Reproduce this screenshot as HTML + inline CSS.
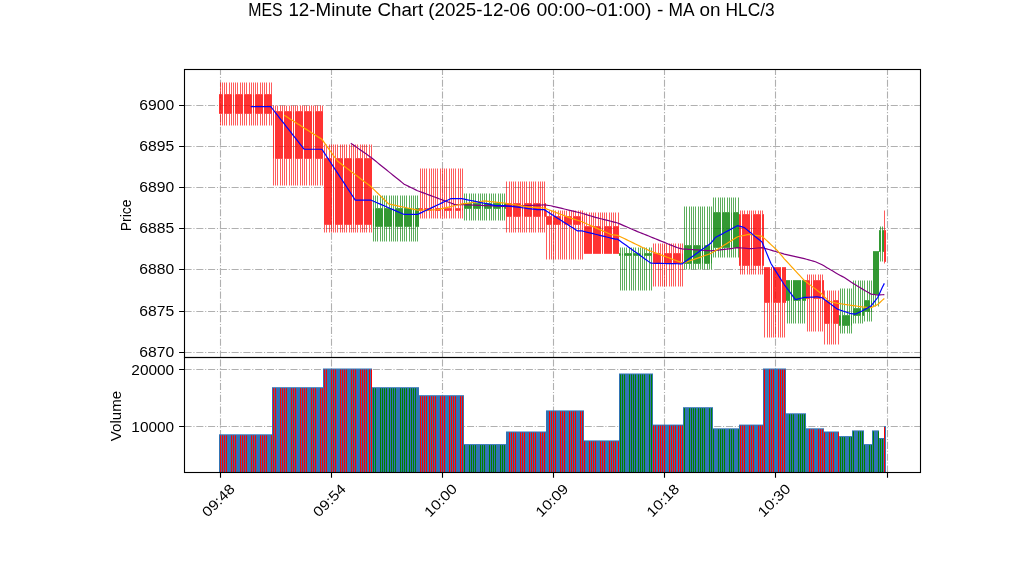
<!DOCTYPE html><html><head><meta charset="utf-8"><style>html,body{margin:0;padding:0;background:#fff;}svg{display:block;will-change:transform;}text{font-family:"Liberation Sans",sans-serif;fill:#000;}.tx{will-change:transform;}</style></head><body>
<svg width="1022" height="575" viewBox="0 0 1022 575">
<rect width="1022" height="575" fill="#fff"/>
<text x="248.30" y="15.85" font-size="17.6" textLength="34.40" lengthAdjust="spacingAndGlyphs">MES</text>
<text x="288.40" y="15.85" font-size="17.6" textLength="83.50" lengthAdjust="spacingAndGlyphs">12-Minute</text>
<text x="377.40" y="15.85" font-size="17.6" textLength="45.90" lengthAdjust="spacingAndGlyphs">Chart</text>
<text x="428.20" y="15.85" font-size="17.6" textLength="102.30" lengthAdjust="spacingAndGlyphs">(2025-12-06</text>
<text x="536.50" y="15.85" font-size="17.6" textLength="115.00" lengthAdjust="spacingAndGlyphs">00:00~01:00)</text>
<text x="656.90" y="15.85" font-size="17.6" textLength="6.40" lengthAdjust="spacingAndGlyphs">-</text>
<text x="668.60" y="15.85" font-size="17.6" textLength="26.00" lengthAdjust="spacingAndGlyphs">MA</text>
<text x="699.40" y="15.85" font-size="17.6" textLength="21.00" lengthAdjust="spacingAndGlyphs">on</text>
<text x="725.60" y="15.85" font-size="17.6" textLength="49.00" lengthAdjust="spacingAndGlyphs">HLC/3</text>
<g stroke="#b0b0b0" stroke-width="1.11" stroke-dasharray="7.1 1.78 1.11 1.78" fill="none"><line x1="184.5" y1="352.50" x2="920.5" y2="352.50"/><line x1="184.5" y1="311.50" x2="920.5" y2="311.50"/><line x1="184.5" y1="269.50" x2="920.5" y2="269.50"/><line x1="184.5" y1="228.50" x2="920.5" y2="228.50"/><line x1="184.5" y1="187.50" x2="920.5" y2="187.50"/><line x1="184.5" y1="146.50" x2="920.5" y2="146.50"/><line x1="184.5" y1="105.50" x2="920.5" y2="105.50"/><line x1="220.50" y1="357.5" x2="220.50" y2="69.5"/><line x1="331.50" y1="357.5" x2="331.50" y2="69.5"/><line x1="442.50" y1="357.5" x2="442.50" y2="69.5"/><line x1="553.50" y1="357.5" x2="553.50" y2="69.5"/><line x1="664.50" y1="357.5" x2="664.50" y2="69.5"/><line x1="775.50" y1="357.5" x2="775.50" y2="69.5"/><line x1="887.50" y1="357.5" x2="887.50" y2="69.5"/></g>
<g stroke="#b0b0b0" stroke-width="1.11" stroke-dasharray="7.1 1.78 1.11 1.78" fill="none"><line x1="184.5" y1="426.50" x2="920.5" y2="426.50"/><line x1="184.5" y1="369.50" x2="920.5" y2="369.50"/><line x1="220.50" y1="472.5" x2="220.50" y2="357.5"/><line x1="331.50" y1="472.5" x2="331.50" y2="357.5"/><line x1="442.50" y1="472.5" x2="442.50" y2="357.5"/><line x1="553.50" y1="472.5" x2="553.50" y2="357.5"/><line x1="664.50" y1="472.5" x2="664.50" y2="357.5"/><line x1="775.50" y1="472.5" x2="775.50" y2="357.5"/><line x1="887.50" y1="472.5" x2="887.50" y2="357.5"/></g>
<g><path d="M220.5 82.50V94.15M220.5 113.85V125.50M222.5 82.50V94.15M222.5 113.85V125.50M224.5 82.50V94.15M224.5 113.85V125.50M226.5 82.50V94.15M226.5 113.85V125.50M229.5 82.50V94.15M229.5 113.85V125.50M231.5 82.50V94.15M231.5 113.85V125.50M233.5 82.50V94.15M233.5 113.85V125.50M235.5 82.50V94.15M235.5 113.85V125.50M237.5 82.50V94.15M237.5 113.85V125.50M240.5 82.50V94.15M240.5 113.85V125.50M242.5 82.50V94.15M242.5 113.85V125.50M244.5 82.50V94.15M244.5 113.85V125.50M246.5 82.50V94.15M246.5 113.85V125.50M249.5 82.50V94.15M249.5 113.85V125.50M251.5 82.50V94.15M251.5 113.85V125.50M253.5 82.50V94.15M253.5 113.85V125.50M255.5 82.50V94.15M255.5 113.85V125.50M257.5 82.50V94.15M257.5 113.85V125.50M260.5 82.50V94.15M260.5 113.85V125.50M262.5 82.50V94.15M262.5 113.85V125.50M264.5 82.50V94.15M264.5 113.85V125.50M266.5 82.50V94.15M266.5 113.85V125.50M269.5 82.50V94.15M269.5 113.85V125.50M271.5 82.50V94.15M271.5 113.85V125.50" stroke="#ff0000" stroke-opacity="0.64" stroke-width="1" fill="none"/><path d="M273.5 105.50V111.15M273.5 158.85V185.50M275.5 105.50V111.15M275.5 158.85V185.50M277.5 105.50V111.15M277.5 158.85V185.50M280.5 105.50V111.15M280.5 158.85V185.50M282.5 105.50V111.15M282.5 158.85V185.50M284.5 105.50V111.15M284.5 158.85V185.50M286.5 105.50V111.15M286.5 158.85V185.50M289.5 105.50V111.15M289.5 158.85V185.50M291.5 105.50V111.15M291.5 158.85V185.50M293.5 105.50V111.15M293.5 158.85V185.50M295.5 105.50V111.15M295.5 158.85V185.50M297.5 105.50V111.15M297.5 158.85V185.50M300.5 105.50V111.15M300.5 158.85V185.50M302.5 105.50V111.15M302.5 158.85V185.50M304.5 105.50V111.15M304.5 158.85V185.50M306.5 105.50V111.15M306.5 158.85V185.50M309.5 105.50V111.15M309.5 158.85V185.50M311.5 105.50V111.15M311.5 158.85V185.50M313.5 105.50V111.15M313.5 158.85V185.50M315.5 105.50V111.15M315.5 158.85V185.50M317.5 105.50V111.15M317.5 158.85V185.50M320.5 105.50V111.15M320.5 158.85V185.50M322.5 105.50V111.15M322.5 158.85V185.50" stroke="#ff0000" stroke-opacity="0.64" stroke-width="1" fill="none"/><path d="M324.5 144.50V158.15M324.5 224.85V232.50M326.5 144.50V158.15M326.5 224.85V232.50M329.5 144.50V158.15M329.5 224.85V232.50M331.5 144.50V158.15M331.5 224.85V232.50M333.5 144.50V158.15M333.5 224.85V232.50M335.5 144.50V158.15M335.5 224.85V232.50M337.5 144.50V158.15M337.5 224.85V232.50M340.5 144.50V158.15M340.5 224.85V232.50M342.5 144.50V158.15M342.5 224.85V232.50M344.5 144.50V158.15M344.5 224.85V232.50M346.5 144.50V158.15M346.5 224.85V232.50M349.5 144.50V158.15M349.5 224.85V232.50M351.5 144.50V158.15M351.5 224.85V232.50M353.5 144.50V158.15M353.5 224.85V232.50M355.5 144.50V158.15M355.5 224.85V232.50M357.5 144.50V158.15M357.5 224.85V232.50M360.5 144.50V158.15M360.5 224.85V232.50M362.5 144.50V158.15M362.5 224.85V232.50M364.5 144.50V158.15M364.5 224.85V232.50M366.5 144.50V158.15M366.5 224.85V232.50M369.5 144.50V158.15M369.5 224.85V232.50M371.5 144.50V158.15M371.5 224.85V232.50" stroke="#ff0000" stroke-opacity="0.64" stroke-width="1" fill="none"/><path d="M373.5 195.50V208.15M373.5 226.85V241.50M375.5 195.50V208.15M375.5 226.85V241.50M377.5 195.50V208.15M377.5 226.85V241.50M380.5 195.50V208.15M380.5 226.85V241.50M382.5 195.50V208.15M382.5 226.85V241.50M384.5 195.50V208.15M384.5 226.85V241.50M386.5 195.50V208.15M386.5 226.85V241.50M389.5 195.50V208.15M389.5 226.85V241.50M391.5 195.50V208.15M391.5 226.85V241.50M393.5 195.50V208.15M393.5 226.85V241.50M395.5 195.50V208.15M395.5 226.85V241.50M397.5 195.50V208.15M397.5 226.85V241.50M400.5 195.50V208.15M400.5 226.85V241.50M402.5 195.50V208.15M402.5 226.85V241.50M404.5 195.50V208.15M404.5 226.85V241.50M406.5 195.50V208.15M406.5 226.85V241.50M409.5 195.50V208.15M409.5 226.85V241.50M411.5 195.50V208.15M411.5 226.85V241.50M413.5 195.50V208.15M413.5 226.85V241.50M415.5 195.50V208.15M415.5 226.85V241.50M417.5 195.50V208.15M417.5 226.85V241.50" stroke="#008000" stroke-opacity="0.64" stroke-width="1" fill="none"/><path d="M420.5 168.50V208.15M420.5 210.85V218.50M422.5 168.50V208.15M422.5 210.85V218.50M424.5 168.50V208.15M424.5 210.85V218.50M426.5 168.50V208.15M426.5 210.85V218.50M429.5 168.50V208.15M429.5 210.85V218.50M431.5 168.50V208.15M431.5 210.85V218.50M433.5 168.50V208.15M433.5 210.85V218.50M435.5 168.50V208.15M435.5 210.85V218.50M437.5 168.50V208.15M437.5 210.85V218.50M440.5 168.50V208.15M440.5 210.85V218.50M442.5 168.50V208.15M442.5 210.85V218.50M444.5 168.50V208.15M444.5 210.85V218.50M446.5 168.50V208.15M446.5 210.85V218.50M449.5 168.50V208.15M449.5 210.85V218.50M451.5 168.50V208.15M451.5 210.85V218.50M453.5 168.50V208.15M453.5 210.85V218.50M455.5 168.50V208.15M455.5 210.85V218.50M458.5 168.50V208.15M458.5 210.85V218.50M460.5 168.50V208.15M460.5 210.85V218.50M462.5 168.50V208.15M462.5 210.85V218.50" stroke="#ff0000" stroke-opacity="0.64" stroke-width="1" fill="none"/><path d="M464.5 193.50V203.15M464.5 208.85V220.50M466.5 193.50V203.15M466.5 208.85V220.50M469.5 193.50V203.15M469.5 208.85V220.50M471.5 193.50V203.15M471.5 208.85V220.50M473.5 193.50V203.15M473.5 208.85V220.50M475.5 193.50V203.15M475.5 208.85V220.50M478.5 193.50V203.15M478.5 208.85V220.50M480.5 193.50V203.15M480.5 208.85V220.50M482.5 193.50V203.15M482.5 208.85V220.50M484.5 193.50V203.15M484.5 208.85V220.50M486.5 193.50V203.15M486.5 208.85V220.50M489.5 193.50V203.15M489.5 208.85V220.50M491.5 193.50V203.15M491.5 208.85V220.50M493.5 193.50V203.15M493.5 208.85V220.50M495.5 193.50V203.15M495.5 208.85V220.50M498.5 193.50V203.15M498.5 208.85V220.50M500.5 193.50V203.15M500.5 208.85V220.50M502.5 193.50V203.15M502.5 208.85V220.50M504.5 193.50V203.15M504.5 208.85V220.50" stroke="#008000" stroke-opacity="0.64" stroke-width="1" fill="none"/><path d="M506.5 181.50V203.15M506.5 216.85V232.50M509.5 181.50V203.15M509.5 216.85V232.50M511.5 181.50V203.15M511.5 216.85V232.50M513.5 181.50V203.15M513.5 216.85V232.50M515.5 181.50V203.15M515.5 216.85V232.50M518.5 181.50V203.15M518.5 216.85V232.50M520.5 181.50V203.15M520.5 216.85V232.50M522.5 181.50V203.15M522.5 216.85V232.50M524.5 181.50V203.15M524.5 216.85V232.50M526.5 181.50V203.15M526.5 216.85V232.50M529.5 181.50V203.15M529.5 216.85V232.50M531.5 181.50V203.15M531.5 216.85V232.50M533.5 181.50V203.15M533.5 216.85V232.50M535.5 181.50V203.15M535.5 216.85V232.50M538.5 181.50V203.15M538.5 216.85V232.50M540.5 181.50V203.15M540.5 216.85V232.50M542.5 181.50V203.15M542.5 216.85V232.50M544.5 181.50V203.15M544.5 216.85V232.50" stroke="#ff0000" stroke-opacity="0.64" stroke-width="1" fill="none"/><path d="M546.5 210.50V216.15M546.5 224.85V259.50M549.5 210.50V216.15M549.5 224.85V259.50M551.5 210.50V216.15M551.5 224.85V259.50M553.5 210.50V216.15M553.5 224.85V259.50M555.5 210.50V216.15M555.5 224.85V259.50M558.5 210.50V216.15M558.5 224.85V259.50M560.5 210.50V216.15M560.5 224.85V259.50M562.5 210.50V216.15M562.5 224.85V259.50M564.5 210.50V216.15M564.5 224.85V259.50M566.5 210.50V216.15M566.5 224.85V259.50M569.5 210.50V216.15M569.5 224.85V259.50M571.5 210.50V216.15M571.5 224.85V259.50M573.5 210.50V216.15M573.5 224.85V259.50M575.5 210.50V216.15M575.5 224.85V259.50M578.5 210.50V216.15M578.5 224.85V259.50M580.5 210.50V216.15M580.5 224.85V259.50M582.5 210.50V216.15M582.5 224.85V259.50" stroke="#ff0000" stroke-opacity="0.64" stroke-width="1" fill="none"/><path d="M584.5 212.50V226.15M586.5 212.50V226.15M589.5 212.50V226.15M591.5 212.50V226.15M593.5 212.50V226.15M595.5 212.50V226.15M598.5 212.50V226.15M600.5 212.50V226.15M602.5 212.50V226.15M604.5 212.50V226.15M606.5 212.50V226.15M609.5 212.50V226.15M611.5 212.50V226.15M613.5 212.50V226.15M615.5 212.50V226.15M618.5 212.50V226.15" stroke="#ff0000" stroke-opacity="0.64" stroke-width="1" fill="none"/><path d="M620.5 247.50V253.15M620.5 255.85V290.50M622.5 247.50V253.15M622.5 255.85V290.50M624.5 247.50V253.15M624.5 255.85V290.50M626.5 247.50V253.15M626.5 255.85V290.50M629.5 247.50V253.15M629.5 255.85V290.50M631.5 247.50V253.15M631.5 255.85V290.50M633.5 247.50V253.15M633.5 255.85V290.50M635.5 247.50V253.15M635.5 255.85V290.50M638.5 247.50V253.15M638.5 255.85V290.50M640.5 247.50V253.15M640.5 255.85V290.50M642.5 247.50V253.15M642.5 255.85V290.50M644.5 247.50V253.15M644.5 255.85V290.50M646.5 247.50V253.15M646.5 255.85V290.50M649.5 247.50V253.15M649.5 255.85V290.50M651.5 247.50V253.15M651.5 255.85V290.50" stroke="#008000" stroke-opacity="0.64" stroke-width="1" fill="none"/><path d="M653.5 243.50V253.15M653.5 263.85V286.50M655.5 243.50V253.15M655.5 263.85V286.50M658.5 243.50V253.15M658.5 263.85V286.50M660.5 243.50V253.15M660.5 263.85V286.50M662.5 243.50V253.15M662.5 263.85V286.50M664.5 243.50V253.15M664.5 263.85V286.50M666.5 243.50V253.15M666.5 263.85V286.50M669.5 243.50V253.15M669.5 263.85V286.50M671.5 243.50V253.15M671.5 263.85V286.50M673.5 243.50V253.15M673.5 263.85V286.50M675.5 243.50V253.15M675.5 263.85V286.50M678.5 243.50V253.15M678.5 263.85V286.50M680.5 243.50V253.15M680.5 263.85V286.50M682.5 243.50V253.15M682.5 263.85V286.50" stroke="#ff0000" stroke-opacity="0.64" stroke-width="1" fill="none"/><path d="M684.5 206.50V245.15M684.5 263.85V269.50M686.5 206.50V245.15M686.5 263.85V269.50M689.5 206.50V245.15M689.5 263.85V269.50M691.5 206.50V245.15M691.5 263.85V269.50M693.5 206.50V245.15M693.5 263.85V269.50M695.5 206.50V245.15M695.5 263.85V269.50M698.5 206.50V245.15M698.5 263.85V269.50M700.5 206.50V245.15M700.5 263.85V269.50M702.5 206.50V245.15M702.5 263.85V269.50M704.5 206.50V245.15M704.5 263.85V269.50M707.5 206.50V245.15M707.5 263.85V269.50M709.5 206.50V245.15M709.5 263.85V269.50M711.5 206.50V245.15M711.5 263.85V269.50" stroke="#008000" stroke-opacity="0.64" stroke-width="1" fill="none"/><path d="M713.5 197.50V212.15M713.5 247.85V257.50M715.5 197.50V212.15M715.5 247.85V257.50M718.5 197.50V212.15M718.5 247.85V257.50M720.5 197.50V212.15M720.5 247.85V257.50M722.5 197.50V212.15M722.5 247.85V257.50M724.5 197.50V212.15M724.5 247.85V257.50M727.5 197.50V212.15M727.5 247.85V257.50M729.5 197.50V212.15M729.5 247.85V257.50M731.5 197.50V212.15M731.5 247.85V257.50M733.5 197.50V212.15M733.5 247.85V257.50M735.5 197.50V212.15M735.5 247.85V257.50M738.5 197.50V212.15M738.5 247.85V257.50" stroke="#008000" stroke-opacity="0.64" stroke-width="1" fill="none"/><path d="M740.5 210.50V214.15M740.5 265.85V274.50M742.5 210.50V214.15M742.5 265.85V274.50M744.5 210.50V214.15M744.5 265.85V274.50M747.5 210.50V214.15M747.5 265.85V274.50M749.5 210.50V214.15M749.5 265.85V274.50M751.5 210.50V214.15M751.5 265.85V274.50M753.5 210.50V214.15M753.5 265.85V274.50M755.5 210.50V214.15M755.5 265.85V274.50M758.5 210.50V214.15M758.5 265.85V274.50M760.5 210.50V214.15M760.5 265.85V274.50M762.5 210.50V214.15M762.5 265.85V274.50" stroke="#ff0000" stroke-opacity="0.64" stroke-width="1" fill="none"/><path d="M764.5 302.85V337.50M767.5 302.85V337.50M769.5 302.85V337.50M771.5 302.85V337.50M773.5 302.85V337.50M775.5 302.85V337.50M778.5 302.85V337.50M780.5 302.85V337.50M782.5 302.85V337.50M784.5 302.85V337.50" stroke="#ff0000" stroke-opacity="0.64" stroke-width="1" fill="none"/><path d="M787.5 300.85V323.50M789.5 300.85V323.50M791.5 300.85V323.50M793.5 300.85V323.50M795.5 300.85V323.50M798.5 300.85V323.50M800.5 300.85V323.50M802.5 300.85V323.50M804.5 300.85V323.50" stroke="#008000" stroke-opacity="0.64" stroke-width="1" fill="none"/><path d="M807.5 274.50V280.15M807.5 298.85V331.50M809.5 274.50V280.15M809.5 298.85V331.50M811.5 274.50V280.15M811.5 298.85V331.50M813.5 274.50V280.15M813.5 298.85V331.50M815.5 274.50V280.15M815.5 298.85V331.50M818.5 274.50V280.15M818.5 298.85V331.50M820.5 274.50V280.15M820.5 298.85V331.50M822.5 274.50V280.15M822.5 298.85V331.50" stroke="#ff0000" stroke-opacity="0.64" stroke-width="1" fill="none"/><path d="M824.5 290.50V300.15M824.5 323.85V344.50M827.5 290.50V300.15M827.5 323.85V344.50M829.5 290.50V300.15M829.5 323.85V344.50M831.5 290.50V300.15M831.5 323.85V344.50M833.5 290.50V300.15M833.5 323.85V344.50M835.5 290.50V300.15M835.5 323.85V344.50M838.5 290.50V300.15M838.5 323.85V344.50" stroke="#ff0000" stroke-opacity="0.64" stroke-width="1" fill="none"/><path d="M840.5 288.50V315.15M840.5 325.85V333.50M842.5 288.50V315.15M842.5 325.85V333.50M844.5 288.50V315.15M844.5 325.85V333.50M847.5 288.50V315.15M847.5 325.85V333.50M849.5 288.50V315.15M849.5 325.85V333.50M851.5 288.50V315.15M851.5 325.85V333.50" stroke="#008000" stroke-opacity="0.64" stroke-width="1" fill="none"/><path d="M853.5 280.50V308.15M853.5 315.85V323.50M855.5 280.50V308.15M855.5 315.85V323.50M858.5 280.50V308.15M858.5 315.85V323.50M860.5 280.50V308.15M860.5 315.85V323.50M862.5 280.50V308.15M862.5 315.85V323.50" stroke="#008000" stroke-opacity="0.64" stroke-width="1" fill="none"/><path d="M864.5 280.50V300.15M864.5 311.85V321.50M867.5 280.50V300.15M867.5 311.85V321.50M869.5 280.50V300.15M869.5 311.85V321.50M871.5 280.50V300.15M871.5 311.85V321.50" stroke="#008000" stroke-opacity="0.64" stroke-width="1" fill="none"/><path d="M873.5 294.85V306.50M875.5 294.85V306.50M878.5 294.85V306.50" stroke="#008000" stroke-opacity="0.64" stroke-width="1" fill="none"/><path d="M880.5 226.50V230.15M880.5 251.85V261.50M882.5 226.50V230.15M882.5 251.85V261.50" stroke="#008000" stroke-opacity="0.64" stroke-width="1" fill="none"/><path d="M884.5 210.50V230.15M884.5 261.85V263.50" stroke="#ff0000" stroke-opacity="0.64" stroke-width="1" fill="none"/></g>
<g><rect x="219" y="94.15" width="4" height="19.70" fill="#ff0000" fill-opacity="0.8"/><rect x="224" y="94.15" width="8" height="19.70" fill="#ff0000" fill-opacity="0.8"/><rect x="233" y="94.15" width="1" height="19.70" fill="#ff0000" fill-opacity="0.8"/><rect x="235" y="94.15" width="8" height="19.70" fill="#ff0000" fill-opacity="0.8"/><rect x="244" y="94.15" width="8" height="19.70" fill="#ff0000" fill-opacity="0.8"/><rect x="253" y="94.15" width="1" height="19.70" fill="#ff0000" fill-opacity="0.8"/><rect x="255" y="94.15" width="8" height="19.70" fill="#ff0000" fill-opacity="0.8"/><rect x="264" y="94.15" width="8" height="19.70" fill="#ff0000" fill-opacity="0.8"/><rect x="273" y="111.15" width="1" height="47.70" fill="#ff0000" fill-opacity="0.8"/><rect x="275" y="111.15" width="8" height="47.70" fill="#ff0000" fill-opacity="0.8"/><rect x="284" y="111.15" width="8" height="47.70" fill="#ff0000" fill-opacity="0.8"/><rect x="293" y="111.15" width="1" height="47.70" fill="#ff0000" fill-opacity="0.8"/><rect x="295" y="111.15" width="8" height="47.70" fill="#ff0000" fill-opacity="0.8"/><rect x="304" y="111.15" width="8" height="47.70" fill="#ff0000" fill-opacity="0.8"/><rect x="313" y="111.15" width="1" height="47.70" fill="#ff0000" fill-opacity="0.8"/><rect x="315" y="111.15" width="8" height="47.70" fill="#ff0000" fill-opacity="0.8"/><rect x="324" y="158.15" width="8" height="66.70" fill="#ff0000" fill-opacity="0.8"/><rect x="333" y="158.15" width="1" height="66.70" fill="#ff0000" fill-opacity="0.8"/><rect x="335" y="158.15" width="8" height="66.70" fill="#ff0000" fill-opacity="0.8"/><rect x="344" y="158.15" width="8" height="66.70" fill="#ff0000" fill-opacity="0.8"/><rect x="353" y="158.15" width="1" height="66.70" fill="#ff0000" fill-opacity="0.8"/><rect x="355" y="158.15" width="8" height="66.70" fill="#ff0000" fill-opacity="0.8"/><rect x="364" y="158.15" width="8" height="66.70" fill="#ff0000" fill-opacity="0.8"/><rect x="373" y="208.15" width="1" height="18.70" fill="#008000" fill-opacity="0.8"/><rect x="375" y="208.15" width="8" height="18.70" fill="#008000" fill-opacity="0.8"/><rect x="384" y="208.15" width="8" height="18.70" fill="#008000" fill-opacity="0.8"/><rect x="393" y="208.15" width="1" height="18.70" fill="#008000" fill-opacity="0.8"/><rect x="395" y="208.15" width="8" height="18.70" fill="#008000" fill-opacity="0.8"/><rect x="404" y="208.15" width="8" height="18.70" fill="#008000" fill-opacity="0.8"/><rect x="413" y="208.15" width="1" height="18.70" fill="#008000" fill-opacity="0.8"/><rect x="415" y="208.15" width="4" height="18.70" fill="#008000" fill-opacity="0.8"/><rect x="419" y="208.15" width="4" height="2.70" fill="#ff0000" fill-opacity="0.8"/><rect x="424" y="208.15" width="8" height="2.70" fill="#ff0000" fill-opacity="0.8"/><rect x="433" y="208.15" width="1" height="2.70" fill="#ff0000" fill-opacity="0.8"/><rect x="435" y="208.15" width="6" height="2.70" fill="#ff0000" fill-opacity="0.8"/><rect x="442" y="208.15" width="1" height="2.70" fill="#ff0000" fill-opacity="0.8"/><rect x="444" y="208.15" width="8" height="2.70" fill="#ff0000" fill-opacity="0.8"/><rect x="453" y="208.15" width="1" height="2.70" fill="#ff0000" fill-opacity="0.8"/><rect x="455" y="208.15" width="6" height="2.70" fill="#ff0000" fill-opacity="0.8"/><rect x="462" y="208.15" width="1" height="2.70" fill="#ff0000" fill-opacity="0.8"/><rect x="464" y="203.15" width="8" height="5.70" fill="#008000" fill-opacity="0.8"/><rect x="473" y="203.15" width="8" height="5.70" fill="#008000" fill-opacity="0.8"/><rect x="482" y="203.15" width="1" height="5.70" fill="#008000" fill-opacity="0.8"/><rect x="484" y="203.15" width="8" height="5.70" fill="#008000" fill-opacity="0.8"/><rect x="493" y="203.15" width="8" height="5.70" fill="#008000" fill-opacity="0.8"/><rect x="502" y="203.15" width="1" height="5.70" fill="#008000" fill-opacity="0.8"/><rect x="504" y="203.15" width="2" height="5.70" fill="#008000" fill-opacity="0.8"/><rect x="506" y="203.15" width="6" height="13.70" fill="#ff0000" fill-opacity="0.8"/><rect x="513" y="203.15" width="8" height="13.70" fill="#ff0000" fill-opacity="0.8"/><rect x="522" y="203.15" width="1" height="13.70" fill="#ff0000" fill-opacity="0.8"/><rect x="524" y="203.15" width="8" height="13.70" fill="#ff0000" fill-opacity="0.8"/><rect x="533" y="203.15" width="8" height="13.70" fill="#ff0000" fill-opacity="0.8"/><rect x="542" y="203.15" width="1" height="13.70" fill="#ff0000" fill-opacity="0.8"/><rect x="544" y="203.15" width="2" height="13.70" fill="#ff0000" fill-opacity="0.8"/><rect x="546" y="216.15" width="6" height="8.70" fill="#ff0000" fill-opacity="0.8"/><rect x="553" y="216.15" width="8" height="8.70" fill="#ff0000" fill-opacity="0.8"/><rect x="562" y="216.15" width="1" height="8.70" fill="#ff0000" fill-opacity="0.8"/><rect x="564" y="216.15" width="8" height="8.70" fill="#ff0000" fill-opacity="0.8"/><rect x="573" y="216.15" width="8" height="8.70" fill="#ff0000" fill-opacity="0.8"/><rect x="582" y="216.15" width="1" height="8.70" fill="#ff0000" fill-opacity="0.8"/><rect x="584" y="226.15" width="8" height="27.70" fill="#ff0000" fill-opacity="0.8"/><rect x="593" y="226.15" width="8" height="27.70" fill="#ff0000" fill-opacity="0.8"/><rect x="602" y="226.15" width="1" height="27.70" fill="#ff0000" fill-opacity="0.8"/><rect x="604" y="226.15" width="8" height="27.70" fill="#ff0000" fill-opacity="0.8"/><rect x="613" y="226.15" width="6" height="27.70" fill="#ff0000" fill-opacity="0.8"/><rect x="619" y="253.15" width="2" height="2.70" fill="#008000" fill-opacity="0.8"/><rect x="622" y="253.15" width="1" height="2.70" fill="#008000" fill-opacity="0.8"/><rect x="624" y="253.15" width="8" height="2.70" fill="#008000" fill-opacity="0.8"/><rect x="633" y="253.15" width="8" height="2.70" fill="#008000" fill-opacity="0.8"/><rect x="642" y="253.15" width="1" height="2.70" fill="#008000" fill-opacity="0.8"/><rect x="644" y="253.15" width="8" height="2.70" fill="#008000" fill-opacity="0.8"/><rect x="653" y="253.15" width="8" height="10.70" fill="#ff0000" fill-opacity="0.8"/><rect x="662" y="253.15" width="1" height="10.70" fill="#ff0000" fill-opacity="0.8"/><rect x="664" y="253.15" width="8" height="10.70" fill="#ff0000" fill-opacity="0.8"/><rect x="673" y="253.15" width="8" height="10.70" fill="#ff0000" fill-opacity="0.8"/><rect x="682" y="253.15" width="1" height="10.70" fill="#ff0000" fill-opacity="0.8"/><rect x="684" y="245.15" width="8" height="18.70" fill="#008000" fill-opacity="0.8"/><rect x="693" y="245.15" width="8" height="18.70" fill="#008000" fill-opacity="0.8"/><rect x="702" y="245.15" width="1" height="18.70" fill="#008000" fill-opacity="0.8"/><rect x="704" y="245.15" width="6" height="18.70" fill="#008000" fill-opacity="0.8"/><rect x="711" y="245.15" width="1" height="18.70" fill="#008000" fill-opacity="0.8"/><rect x="713" y="212.15" width="8" height="35.70" fill="#008000" fill-opacity="0.8"/><rect x="722" y="212.15" width="8" height="35.70" fill="#008000" fill-opacity="0.8"/><rect x="731" y="212.15" width="1" height="35.70" fill="#008000" fill-opacity="0.8"/><rect x="733" y="212.15" width="6" height="35.70" fill="#008000" fill-opacity="0.8"/><rect x="739" y="214.15" width="2" height="51.70" fill="#ff0000" fill-opacity="0.8"/><rect x="742" y="214.15" width="8" height="51.70" fill="#ff0000" fill-opacity="0.8"/><rect x="751" y="214.15" width="1" height="51.70" fill="#ff0000" fill-opacity="0.8"/><rect x="753" y="214.15" width="8" height="51.70" fill="#ff0000" fill-opacity="0.8"/><rect x="762" y="214.15" width="2" height="51.70" fill="#ff0000" fill-opacity="0.8"/><rect x="764" y="267.15" width="6" height="35.70" fill="#ff0000" fill-opacity="0.8"/><rect x="771" y="267.15" width="1" height="35.70" fill="#ff0000" fill-opacity="0.8"/><rect x="773" y="267.15" width="8" height="35.70" fill="#ff0000" fill-opacity="0.8"/><rect x="782" y="267.15" width="4" height="35.70" fill="#ff0000" fill-opacity="0.8"/><rect x="786" y="280.15" width="4" height="20.70" fill="#008000" fill-opacity="0.8"/><rect x="791" y="280.15" width="1" height="20.70" fill="#008000" fill-opacity="0.8"/><rect x="793" y="280.15" width="8" height="20.70" fill="#008000" fill-opacity="0.8"/><rect x="802" y="280.15" width="4" height="20.70" fill="#008000" fill-opacity="0.8"/><rect x="806" y="280.15" width="4" height="18.70" fill="#ff0000" fill-opacity="0.8"/><rect x="811" y="280.15" width="1" height="18.70" fill="#ff0000" fill-opacity="0.8"/><rect x="813" y="280.15" width="8" height="18.70" fill="#ff0000" fill-opacity="0.8"/><rect x="822" y="280.15" width="2" height="18.70" fill="#ff0000" fill-opacity="0.8"/><rect x="824" y="300.15" width="6" height="23.70" fill="#ff0000" fill-opacity="0.8"/><rect x="831" y="300.15" width="1" height="23.70" fill="#ff0000" fill-opacity="0.8"/><rect x="833" y="300.15" width="6" height="23.70" fill="#ff0000" fill-opacity="0.8"/><rect x="839" y="315.15" width="2" height="10.70" fill="#008000" fill-opacity="0.8"/><rect x="842" y="315.15" width="8" height="10.70" fill="#008000" fill-opacity="0.8"/><rect x="851" y="315.15" width="1" height="10.70" fill="#008000" fill-opacity="0.8"/><rect x="853" y="308.15" width="8" height="7.70" fill="#008000" fill-opacity="0.8"/><rect x="862" y="308.15" width="2" height="7.70" fill="#008000" fill-opacity="0.8"/><rect x="864" y="300.15" width="6" height="11.70" fill="#008000" fill-opacity="0.8"/><rect x="871" y="300.15" width="1" height="11.70" fill="#008000" fill-opacity="0.8"/><rect x="873" y="251.15" width="6" height="43.70" fill="#008000" fill-opacity="0.8"/><rect x="879" y="230.15" width="2" height="21.70" fill="#008000" fill-opacity="0.8"/><rect x="882" y="230.15" width="2" height="21.70" fill="#008000" fill-opacity="0.8"/><rect x="884" y="230.15" width="2" height="31.70" fill="#ff0000" fill-opacity="0.8"/></g>
<g><rect x="219" y="434.30" width="53" height="38.20" fill="#3274b4"/><path d="M220.5 435.30V472.5M222.5 435.30V472.5M224.5 435.30V472.5M226.5 435.30V472.5M231.5 435.30V472.5M233.5 435.30V472.5M235.5 435.30V472.5M240.5 435.30V472.5M242.5 435.30V472.5M244.5 435.30V472.5M246.5 435.30V472.5M251.5 435.30V472.5M253.5 435.30V472.5M255.5 435.30V472.5M260.5 435.30V472.5M262.5 435.30V472.5M264.5 435.30V472.5M266.5 435.30V472.5M271.5 435.30V472.5" stroke="#ff0000" stroke-width="1" fill="none"/><rect x="272" y="387.20" width="52" height="85.30" fill="#3274b4"/><path d="M273.5 388.20V472.5M275.5 388.20V472.5M280.5 388.20V472.5M282.5 388.20V472.5M284.5 388.20V472.5M286.5 388.20V472.5M291.5 388.20V472.5M293.5 388.20V472.5M295.5 388.20V472.5M300.5 388.20V472.5M302.5 388.20V472.5M304.5 388.20V472.5M306.5 388.20V472.5M311.5 388.20V472.5M313.5 388.20V472.5M315.5 388.20V472.5M320.5 388.20V472.5M322.5 388.20V472.5" stroke="#ff0000" stroke-width="1" fill="none"/><rect x="323" y="368.50" width="49" height="104.00" fill="#3274b4"/><path d="M324.5 369.50V472.5M326.5 369.50V472.5M331.5 369.50V472.5M333.5 369.50V472.5M335.5 369.50V472.5M340.5 369.50V472.5M342.5 369.50V472.5M344.5 369.50V472.5M346.5 369.50V472.5M351.5 369.50V472.5M353.5 369.50V472.5M355.5 369.50V472.5M360.5 369.50V472.5M362.5 369.50V472.5M364.5 369.50V472.5M366.5 369.50V472.5M369.5 369.50V472.5M371.5 369.50V472.5" stroke="#ff0000" stroke-width="1" fill="none"/><rect x="372" y="387.20" width="47" height="85.30" fill="#3274b4"/><path d="M373.5 388.20V472.5M375.5 388.20V472.5M380.5 388.20V472.5M382.5 388.20V472.5M384.5 388.20V472.5M386.5 388.20V472.5M389.5 388.20V472.5M391.5 388.20V472.5M393.5 388.20V472.5M395.5 388.20V472.5M400.5 388.20V472.5M402.5 388.20V472.5M404.5 388.20V472.5M406.5 388.20V472.5M409.5 388.20V472.5M411.5 388.20V472.5M413.5 388.20V472.5M415.5 388.20V472.5" stroke="#008000" stroke-width="1" fill="none"/><rect x="419" y="395.20" width="45" height="77.30" fill="#3274b4"/><path d="M420.5 396.20V472.5M422.5 396.20V472.5M424.5 396.20V472.5M426.5 396.20V472.5M429.5 396.20V472.5M431.5 396.20V472.5M433.5 396.20V472.5M435.5 396.20V472.5M440.5 396.20V472.5M442.5 396.20V472.5M444.5 396.20V472.5M449.5 396.20V472.5M451.5 396.20V472.5M453.5 396.20V472.5M455.5 396.20V472.5M460.5 396.20V472.5M462.5 396.20V472.5" stroke="#ff0000" stroke-width="1" fill="none"/><rect x="463" y="444.10" width="43" height="28.40" fill="#3274b4"/><path d="M464.5 445.10V472.5M469.5 445.10V472.5M471.5 445.10V472.5M473.5 445.10V472.5M475.5 445.10V472.5M480.5 445.10V472.5M482.5 445.10V472.5M484.5 445.10V472.5M489.5 445.10V472.5M491.5 445.10V472.5M493.5 445.10V472.5M495.5 445.10V472.5M500.5 445.10V472.5M502.5 445.10V472.5M504.5 445.10V472.5" stroke="#008000" stroke-width="1" fill="none"/><rect x="506" y="431.50" width="40" height="41.00" fill="#3274b4"/><path d="M509.5 432.50V472.5M511.5 432.50V472.5M513.5 432.50V472.5M515.5 432.50V472.5M520.5 432.50V472.5M522.5 432.50V472.5M524.5 432.50V472.5M529.5 432.50V472.5M531.5 432.50V472.5M533.5 432.50V472.5M535.5 432.50V472.5M540.5 432.50V472.5M542.5 432.50V472.5M544.5 432.50V472.5" stroke="#ff0000" stroke-width="1" fill="none"/><rect x="546" y="410.40" width="38" height="62.10" fill="#3274b4"/><path d="M549.5 411.40V472.5M551.5 411.40V472.5M553.5 411.40V472.5M555.5 411.40V472.5M560.5 411.40V472.5M562.5 411.40V472.5M564.5 411.40V472.5M569.5 411.40V472.5M571.5 411.40V472.5M573.5 411.40V472.5M575.5 411.40V472.5M580.5 411.40V472.5M582.5 411.40V472.5" stroke="#ff0000" stroke-width="1" fill="none"/><rect x="583" y="440.40" width="36" height="32.10" fill="#3274b4"/><path d="M584.5 441.40V472.5M589.5 441.40V472.5M591.5 441.40V472.5M593.5 441.40V472.5M595.5 441.40V472.5M600.5 441.40V472.5M602.5 441.40V472.5M604.5 441.40V472.5M609.5 441.40V472.5M611.5 441.40V472.5M613.5 441.40V472.5M615.5 441.40V472.5M618.5 441.40V472.5" stroke="#ff0000" stroke-width="1" fill="none"/><rect x="619" y="373.50" width="34" height="99.00" fill="#3274b4"/><path d="M620.5 374.50V472.5M622.5 374.50V472.5M624.5 374.50V472.5M629.5 374.50V472.5M631.5 374.50V472.5M633.5 374.50V472.5M635.5 374.50V472.5M638.5 374.50V472.5M640.5 374.50V472.5M642.5 374.50V472.5M644.5 374.50V472.5M649.5 374.50V472.5M651.5 374.50V472.5" stroke="#008000" stroke-width="1" fill="none"/><rect x="652" y="424.60" width="32" height="47.90" fill="#3274b4"/><path d="M653.5 425.60V472.5M655.5 425.60V472.5M658.5 425.60V472.5M660.5 425.60V472.5M662.5 425.60V472.5M664.5 425.60V472.5M669.5 425.60V472.5M671.5 425.60V472.5M673.5 425.60V472.5M675.5 425.60V472.5M678.5 425.60V472.5M680.5 425.60V472.5M682.5 425.60V472.5" stroke="#ff0000" stroke-width="1" fill="none"/><rect x="683" y="407.20" width="30" height="65.30" fill="#3274b4"/><path d="M684.5 408.20V472.5M689.5 408.20V472.5M691.5 408.20V472.5M693.5 408.20V472.5M695.5 408.20V472.5M698.5 408.20V472.5M700.5 408.20V472.5M702.5 408.20V472.5M704.5 408.20V472.5M709.5 408.20V472.5M711.5 408.20V472.5" stroke="#008000" stroke-width="1" fill="none"/><rect x="712" y="428.30" width="27" height="44.20" fill="#3274b4"/><path d="M713.5 429.30V472.5M718.5 429.30V472.5M720.5 429.30V472.5M722.5 429.30V472.5M724.5 429.30V472.5M729.5 429.30V472.5M731.5 429.30V472.5M733.5 429.30V472.5M738.5 429.30V472.5" stroke="#008000" stroke-width="1" fill="none"/><rect x="739" y="424.60" width="25" height="47.90" fill="#3274b4"/><path d="M740.5 425.60V472.5M742.5 425.60V472.5M744.5 425.60V472.5M749.5 425.60V472.5M751.5 425.60V472.5M753.5 425.60V472.5M758.5 425.60V472.5M760.5 425.60V472.5M762.5 425.60V472.5" stroke="#ff0000" stroke-width="1" fill="none"/><rect x="763" y="368.50" width="23" height="104.00" fill="#3274b4"/><path d="M764.5 369.50V472.5M769.5 369.50V472.5M771.5 369.50V472.5M773.5 369.50V472.5M778.5 369.50V472.5M780.5 369.50V472.5M782.5 369.50V472.5M784.5 369.50V472.5" stroke="#ff0000" stroke-width="1" fill="none"/><rect x="786" y="413.30" width="20" height="59.20" fill="#3274b4"/><path d="M789.5 414.30V472.5M791.5 414.30V472.5M793.5 414.30V472.5M798.5 414.30V472.5M800.5 414.30V472.5M802.5 414.30V472.5M804.5 414.30V472.5" stroke="#008000" stroke-width="1" fill="none"/><rect x="806" y="428.30" width="18" height="44.20" fill="#3274b4"/><path d="M809.5 429.30V472.5M811.5 429.30V472.5M813.5 429.30V472.5M818.5 429.30V472.5M820.5 429.30V472.5M822.5 429.30V472.5" stroke="#ff0000" stroke-width="1" fill="none"/><rect x="823" y="431.50" width="16" height="41.00" fill="#3274b4"/><path d="M824.5 432.50V472.5M829.5 432.50V472.5M831.5 432.50V472.5M833.5 432.50V472.5M838.5 432.50V472.5" stroke="#ff0000" stroke-width="1" fill="none"/><rect x="839" y="436.10" width="14" height="36.40" fill="#3274b4"/><path d="M840.5 437.10V472.5M842.5 437.10V472.5M844.5 437.10V472.5M849.5 437.10V472.5M851.5 437.10V472.5" stroke="#008000" stroke-width="1" fill="none"/><rect x="852" y="430.40" width="12" height="42.10" fill="#3274b4"/><path d="M853.5 431.40V472.5M858.5 431.40V472.5M860.5 431.40V472.5M862.5 431.40V472.5" stroke="#008000" stroke-width="1" fill="none"/><rect x="863" y="444.10" width="10" height="28.40" fill="#3274b4"/><path d="M864.5 445.10V472.5M869.5 445.10V472.5M871.5 445.10V472.5" stroke="#008000" stroke-width="1" fill="none"/><rect x="872" y="430.40" width="7" height="42.10" fill="#3274b4"/><path d="M873.5 431.40V472.5M878.5 431.40V472.5" stroke="#008000" stroke-width="1" fill="none"/><rect x="879" y="438.00" width="5" height="34.50" fill="#3274b4"/><path d="M880.5 439.00V472.5M882.5 439.00V472.5" stroke="#008000" stroke-width="1" fill="none"/><rect x="884" y="426.10" width="2" height="46.40" fill="#3274b4"/><path d="M884.5 427.10V472.5" stroke="#ff0000" stroke-width="1" fill="none"/></g>
<polyline points="350.79,143.21 353.01,144.77 355.24,146.33 357.46,147.88 359.68,149.44 361.90,151.00 364.13,152.55 366.35,154.11 368.57,155.67 370.80,157.22 373.02,159.02 375.24,160.82 377.47,162.61 379.69,164.41 381.91,166.21 384.14,168.00 386.36,169.80 388.58,171.60 390.81,173.39 393.03,175.19 395.25,176.99 397.48,178.78 399.70,180.58 401.92,182.38 404.15,184.17 406.37,185.26 408.59,186.35 410.82,187.43 413.04,188.52 415.26,189.61 417.48,190.70 419.71,191.52 421.93,192.34 424.15,193.17 426.38,193.99 428.60,194.82 430.82,195.64 433.05,196.46 435.27,197.29 437.49,198.11 439.72,198.94 441.94,199.76 444.16,200.58 446.39,201.41 448.61,202.23 450.83,203.06 453.06,203.88 455.28,204.70 457.50,204.68 459.73,204.66 461.95,204.64 464.17,204.73 466.40,204.82 468.62,204.91 470.84,205.00 473.06,205.09 475.29,205.19 477.51,205.28 479.73,205.37 481.96,205.46 484.18,205.55 486.40,205.64 488.63,205.73 490.85,205.83 493.07,205.92 495.30,206.01 497.52,206.10 499.74,206.19 501.97,206.28 504.19,206.38 506.41,206.30 508.64,206.22 510.86,206.14 513.08,206.06 515.31,205.97 517.53,205.89 519.75,205.81 521.98,205.73 524.20,205.65 526.42,205.57 528.64,205.49 530.87,205.41 533.09,205.33 535.31,205.25 537.54,205.17 539.76,205.09 541.98,205.01 544.21,204.93 546.43,205.21 548.65,205.48 550.88,205.76 553.10,206.30 555.32,206.83 557.55,207.37 559.77,207.91 561.99,208.45 564.22,208.98 566.44,209.52 568.66,210.06 570.89,210.60 573.11,211.14 575.33,211.67 577.56,212.21 579.78,212.75 582.00,213.29 584.22,213.96 586.45,214.64 588.67,215.31 590.89,215.99 593.12,216.66 595.34,217.34 597.56,217.90 599.79,218.46 602.01,219.02 604.23,219.58 606.46,220.14 608.68,220.70 610.90,221.26 613.13,221.83 615.35,222.39 617.57,222.95 619.80,223.91 622.02,224.87 624.24,225.83 626.47,226.79 628.69,227.75 630.91,228.72 633.14,229.68 635.36,230.64 637.58,231.60 639.80,232.49 642.03,233.38 644.25,234.28 646.47,235.17 648.70,236.06 650.92,236.95 653.14,237.86 655.37,238.76 657.59,239.67 659.81,240.57 662.04,241.48 664.26,242.38 666.48,243.28 668.71,244.19 670.93,245.09 673.15,246.00 675.38,246.90 677.60,247.80 679.82,248.35 682.05,248.90 684.27,249.05 686.49,249.20 688.72,249.35 690.94,249.50 693.16,249.65 695.38,249.80 697.61,249.94 699.83,250.09 702.05,250.24 704.28,250.39 706.50,250.54 708.72,250.69 710.95,250.84 713.17,250.69 715.39,250.54 717.62,250.25 719.84,249.97 722.06,249.68 724.29,249.40 726.51,249.11 728.73,248.82 730.96,248.54 733.18,248.25 735.40,247.96 737.63,247.68 739.85,247.85 742.07,248.02 744.30,248.19 746.52,248.37 748.74,248.54 750.96,248.71 753.19,248.48 755.41,248.25 757.63,248.02 759.86,247.79 762.08,247.56 764.30,248.22 766.53,248.87 768.75,249.52 770.97,250.17 773.20,250.83 775.42,251.48 777.64,252.13 779.87,252.78 782.09,253.44 784.31,254.09 786.54,254.59 788.76,255.09 790.98,255.60 793.21,256.10 795.43,256.61 797.65,257.11 799.88,257.61 802.10,258.12 804.32,258.62 806.54,259.24 808.77,259.86 810.99,260.47 813.21,261.09 815.44,261.71 817.66,262.73 819.88,263.75 822.11,264.76 824.33,266.08 826.55,267.40 828.78,268.71 831.00,270.03 833.22,271.35 835.45,272.66 837.67,273.98 839.89,275.18 842.12,276.38 844.34,277.58 846.56,279.08 848.79,280.58 851.01,282.08 853.23,283.44 855.46,284.80 857.68,286.16 859.90,287.52 862.12,288.88 864.35,290.18 866.57,291.49 868.79,292.79 871.02,294.10 873.24,294.43 875.46,294.76 877.69,295.09 879.91,294.92 882.13,294.75 884.36,294.67" fill="none" stroke="#800080" stroke-width="1.2"/>
<polyline points="284.09,115.17 286.32,116.59 288.54,118.01 290.76,119.43 292.99,120.85 295.21,122.27 297.43,123.69 299.66,125.11 301.88,126.53 304.10,127.95 306.32,129.37 308.55,130.78 310.77,132.20 312.99,133.62 315.22,135.04 317.44,136.46 319.66,137.88 321.89,139.30 324.11,142.41 326.33,145.53 328.56,148.64 330.78,151.75 333.00,154.86 335.23,157.98 337.45,161.09 339.67,162.78 341.90,164.48 344.12,166.17 346.34,167.86 348.57,169.56 350.79,171.25 353.01,172.95 355.24,174.64 357.46,176.33 359.68,178.03 361.90,179.72 364.13,181.42 366.35,183.11 368.57,184.80 370.80,186.50 373.02,188.67 375.24,190.85 377.47,193.02 379.69,195.19 381.91,197.37 384.14,199.54 386.36,201.72 388.58,203.89 390.81,204.37 393.03,204.85 395.25,205.33 397.48,205.81 399.70,206.30 401.92,206.78 404.15,207.26 406.37,207.74 408.59,208.22 410.82,208.70 413.04,209.18 415.26,209.66 417.48,210.14 419.71,210.09 421.93,210.05 424.15,210.00 426.38,209.96 428.60,209.91 430.82,209.87 433.05,209.82 435.27,209.77 437.49,209.73 439.72,209.20 441.94,208.68 444.16,208.15 446.39,207.62 448.61,207.10 450.83,206.57 453.06,206.04 455.28,205.52 457.50,204.99 459.73,204.46 461.95,203.94 464.17,203.64 466.40,203.34 468.62,203.05 470.84,202.75 473.06,202.45 475.29,202.15 477.51,201.85 479.73,201.56 481.96,201.26 484.18,200.96 486.40,201.19 488.63,201.42 490.85,201.65 493.07,201.88 495.30,202.11 497.52,202.34 499.74,202.56 501.97,202.79 504.19,203.02 506.41,203.39 508.64,203.75 510.86,204.12 513.08,204.49 515.31,204.85 517.53,205.22 519.75,205.59 521.98,205.95 524.20,206.32 526.42,206.68 528.64,207.05 530.87,207.19 533.09,207.33 535.31,207.46 537.54,207.60 539.76,207.74 541.98,207.87 544.21,208.01 546.43,208.86 548.65,209.71 550.88,210.55 553.10,211.40 555.32,212.25 557.55,213.09 559.77,213.94 561.99,214.79 564.22,215.63 566.44,216.48 568.66,217.33 570.89,218.17 573.11,218.88 575.33,219.59 577.56,220.30 579.78,221.01 582.00,221.72 584.22,222.71 586.45,223.69 588.67,224.68 590.89,225.66 593.12,226.64 595.34,227.63 597.56,228.61 599.79,229.60 602.01,230.58 604.23,231.56 606.46,232.55 608.68,233.53 610.90,234.52 613.13,234.79 615.35,235.07 617.57,235.34 619.80,236.42 622.02,237.49 624.24,238.57 626.47,239.64 628.69,240.72 630.91,241.80 633.14,242.87 635.36,243.95 637.58,245.02 639.80,246.10 642.03,247.17 644.25,248.25 646.47,249.33 648.70,250.40 650.92,251.20 653.14,252.03 655.37,252.85 657.59,253.68 659.81,254.50 662.04,255.32 664.26,256.15 666.48,256.97 668.71,257.80 670.93,258.62 673.15,259.44 675.38,260.27 677.60,261.09 679.82,261.92 682.05,262.74 684.27,262.76 686.49,261.98 688.72,261.21 690.94,260.43 693.16,259.65 695.38,258.87 697.61,258.09 699.83,257.31 702.05,256.54 704.28,255.76 706.50,254.98 708.72,254.20 710.95,253.42 713.17,252.05 715.39,250.68 717.62,249.30 719.84,247.91 722.06,246.51 724.29,245.11 726.51,243.72 728.73,242.32 730.96,240.93 733.18,239.53 735.40,238.13 737.63,236.74 739.85,236.26 742.07,235.78 744.30,235.30 746.52,234.81 748.74,234.33 750.96,234.65 753.19,234.98 755.41,235.30 757.63,235.62 759.86,235.94 762.08,236.26 764.30,238.34 766.53,240.42 768.75,242.51 770.97,244.59 773.20,246.67 775.42,248.75 777.64,250.84 779.87,253.52 782.09,256.19 784.31,258.87 786.54,261.27 788.76,263.68 790.98,266.08 793.21,268.48 795.43,270.89 797.65,273.29 799.88,275.69 802.10,278.10 804.32,280.50 806.54,282.22 808.77,283.93 810.99,285.65 813.21,287.37 815.44,289.08 817.66,290.80 819.88,292.52 822.11,294.23 824.33,296.55 826.55,298.86 828.78,301.17 831.00,301.72 833.22,302.27 835.45,302.82 837.67,303.37 839.89,303.69 842.12,304.01 844.34,304.33 846.56,304.65 848.79,304.97 851.01,305.29 853.23,305.61 855.46,305.92 857.68,306.24 859.90,306.55 862.12,306.87 864.35,307.08 866.57,307.28 868.79,307.49 871.02,307.69 873.24,306.64 875.46,305.59 877.69,304.53 879.91,302.47 882.13,300.41 884.36,298.54" fill="none" stroke="#ffa500" stroke-width="1.2"/>
<polyline points="250.74,106.66 252.97,106.66 255.19,106.66 257.41,106.66 259.64,106.66 261.86,106.66 264.08,106.66 266.31,106.66 268.53,106.66 270.75,106.66 272.98,109.50 275.20,112.34 277.42,115.17 279.65,118.01 281.87,120.85 284.09,123.69 286.32,126.53 288.54,129.37 290.76,132.20 292.99,135.04 295.21,137.88 297.43,140.72 299.66,143.56 301.88,146.40 304.10,149.23 306.32,149.23 308.55,149.23 310.77,149.23 312.99,149.23 315.22,149.23 317.44,149.23 319.66,149.23 321.89,149.23 324.11,152.62 326.33,156.01 328.56,159.40 330.78,162.78 333.00,166.17 335.23,169.56 337.45,172.95 339.67,176.33 341.90,179.72 344.12,183.11 346.34,186.50 348.57,189.88 350.79,193.27 353.01,196.66 355.24,200.05 357.46,200.05 359.68,200.05 361.90,200.05 364.13,200.05 366.35,200.05 368.57,200.05 370.80,200.05 373.02,201.01 375.24,201.97 377.47,202.93 379.69,203.89 381.91,204.85 384.14,205.81 386.36,206.78 388.58,207.74 390.81,208.70 393.03,209.66 395.25,210.62 397.48,211.58 399.70,212.54 401.92,213.51 404.15,214.47 406.37,214.47 408.59,214.47 410.82,214.47 413.04,214.47 415.26,214.47 417.48,214.47 419.71,213.41 421.93,212.36 424.15,211.31 426.38,210.26 428.60,209.20 430.82,208.15 433.05,207.10 435.27,206.04 437.49,204.99 439.72,203.94 441.94,202.88 444.16,201.83 446.39,200.78 448.61,199.73 450.83,198.67 453.06,198.67 455.28,198.67 457.50,198.67 459.73,198.67 461.95,198.67 464.17,199.13 466.40,199.59 468.62,200.05 470.84,200.50 473.06,200.96 475.29,201.42 477.51,201.88 479.73,202.34 481.96,202.79 484.18,203.25 486.40,203.71 488.63,204.17 490.85,204.62 493.07,205.08 495.30,205.54 497.52,205.54 499.74,205.54 501.97,205.54 504.19,205.54 506.41,205.81 508.64,206.09 510.86,206.36 513.08,206.64 515.31,206.91 517.53,207.19 519.75,207.46 521.98,207.74 524.20,208.01 526.42,208.29 528.64,208.56 530.87,208.84 533.09,209.11 535.31,209.39 537.54,209.66 539.76,209.66 541.98,209.66 544.21,209.66 546.43,211.08 548.65,212.50 550.88,213.92 553.10,215.34 555.32,216.76 557.55,218.17 559.77,219.59 561.99,221.01 564.22,222.43 566.44,223.85 568.66,225.27 570.89,226.69 573.11,228.11 575.33,229.53 577.56,230.95 579.78,230.95 582.00,230.95 584.22,231.50 586.45,232.05 588.67,232.59 590.89,233.14 593.12,233.69 595.34,234.24 597.56,234.79 599.79,235.34 602.01,235.89 604.23,236.44 606.46,236.99 608.68,237.54 610.90,238.09 613.13,238.64 615.35,239.19 617.57,239.19 619.80,240.79 622.02,242.39 624.24,243.99 626.47,245.60 628.69,247.20 630.91,248.80 633.14,250.40 635.36,252.00 637.58,253.61 639.80,255.21 642.03,256.81 644.25,258.41 646.47,260.02 648.70,261.62 650.92,263.22 653.14,263.27 655.37,263.31 657.59,263.36 659.81,263.40 662.04,263.45 664.26,263.49 666.48,263.54 668.71,263.59 670.93,263.63 673.15,263.68 675.38,263.72 677.60,263.77 679.82,263.82 682.05,263.86 684.27,262.30 686.49,260.70 688.72,259.10 690.94,257.50 693.16,255.90 695.38,254.29 697.61,252.69 699.83,251.09 702.05,249.49 704.28,247.88 706.50,246.28 708.72,244.68 710.95,243.08 713.17,240.29 715.39,237.49 717.62,236.30 719.84,235.11 722.06,233.92 724.29,232.73 726.51,231.54 728.73,230.35 730.96,229.16 733.18,227.97 735.40,226.78 737.63,225.59 739.85,226.23 742.07,226.87 744.30,227.51 746.52,229.34 748.74,231.18 750.96,233.01 753.19,234.84 755.41,236.67 757.63,238.50 759.86,240.33 762.08,242.16 764.30,247.52 766.53,252.87 768.75,258.23 770.97,263.59 773.20,267.11 775.42,270.64 777.64,274.16 779.87,277.69 782.09,281.21 784.31,284.74 786.54,287.71 788.76,290.69 790.98,293.66 793.21,296.64 795.43,299.61 797.65,299.06 799.88,298.51 802.10,297.97 804.32,297.42 806.54,297.32 808.77,297.23 810.99,297.14 813.21,297.05 815.44,296.96 817.66,296.87 819.88,297.32 822.11,297.78 824.33,299.43 826.55,301.08 828.78,302.73 831.00,304.37 833.22,306.02 835.45,307.67 837.67,309.32 839.89,310.05 842.12,310.78 844.34,311.52 846.56,312.25 848.79,312.98 851.01,313.71 853.23,313.89 855.46,314.06 857.68,313.04 859.90,312.03 862.12,311.01 864.35,309.78 866.57,308.54 868.79,307.30 871.02,306.07 873.24,303.23 875.46,300.39 877.69,297.55 879.91,292.70 882.13,287.85 884.36,283.36" fill="none" stroke="#0000ff" stroke-width="1.2"/>
<g stroke="#000" stroke-width="1.11" fill="none"><rect x="184.5" y="69.5" width="736.0" height="288.0"/><rect x="184.5" y="357.5" width="736.0" height="115.0"/></g>
<path d="M184.5 352.50H179.1M184.5 311.50H179.1M184.5 269.50H179.1M184.5 228.50H179.1M184.5 187.50H179.1M184.5 146.50H179.1M184.5 105.50H179.1M184.5 426.50H179.1M184.5 369.50H179.1M220.50 472.5V477.7M331.50 472.5V477.7M442.50 472.5V477.7M553.50 472.5V477.7M664.50 472.5V477.7M775.50 472.5V477.7M887.50 472.5V477.7" stroke="#000" stroke-width="1.11" fill="none"/>
<text x="174.2" y="356.50" font-size="14" text-anchor="end" textLength="34.9" lengthAdjust="spacingAndGlyphs">6870</text>
<text x="174.2" y="315.50" font-size="14" text-anchor="end" textLength="34.9" lengthAdjust="spacingAndGlyphs">6875</text>
<text x="174.2" y="273.50" font-size="14" text-anchor="end" textLength="34.9" lengthAdjust="spacingAndGlyphs">6880</text>
<text x="174.2" y="232.50" font-size="14" text-anchor="end" textLength="34.9" lengthAdjust="spacingAndGlyphs">6885</text>
<text x="174.2" y="191.50" font-size="14" text-anchor="end" textLength="34.9" lengthAdjust="spacingAndGlyphs">6890</text>
<text x="174.2" y="150.50" font-size="14" text-anchor="end" textLength="34.9" lengthAdjust="spacingAndGlyphs">6895</text>
<text x="174.2" y="109.50" font-size="14" text-anchor="end" textLength="34.9" lengthAdjust="spacingAndGlyphs">6900</text>
<text x="174.2" y="431.50" font-size="14" text-anchor="end" textLength="42.9" lengthAdjust="spacingAndGlyphs">10000</text>
<text x="174.2" y="374.50" font-size="14" text-anchor="end" textLength="42.9" lengthAdjust="spacingAndGlyphs">20000</text>
<text transform="translate(131.1,215.3) rotate(-90)" font-size="14" text-anchor="middle" textLength="31.8" lengthAdjust="spacingAndGlyphs">Price</text>
<text transform="translate(121.4,416) rotate(-90)" font-size="14" text-anchor="middle" textLength="50.5" lengthAdjust="spacingAndGlyphs">Volume</text>
<text transform="translate(218.12,500.30) rotate(-45)" x="0" y="5" font-size="14" text-anchor="middle" textLength="39.5" lengthAdjust="spacingAndGlyphs">09:48</text>
<text transform="translate(329.28,500.30) rotate(-45)" x="0" y="5" font-size="14" text-anchor="middle" textLength="39.5" lengthAdjust="spacingAndGlyphs">09:54</text>
<text transform="translate(440.44,500.30) rotate(-45)" x="0" y="5" font-size="14" text-anchor="middle" textLength="39.5" lengthAdjust="spacingAndGlyphs">10:00</text>
<text transform="translate(551.60,500.30) rotate(-45)" x="0" y="5" font-size="14" text-anchor="middle" textLength="39.5" lengthAdjust="spacingAndGlyphs">10:09</text>
<text transform="translate(662.76,500.30) rotate(-45)" x="0" y="5" font-size="14" text-anchor="middle" textLength="39.5" lengthAdjust="spacingAndGlyphs">10:18</text>
<text transform="translate(773.92,500.30) rotate(-45)" x="0" y="5" font-size="14" text-anchor="middle" textLength="39.5" lengthAdjust="spacingAndGlyphs">10:30</text>
</svg></body></html>
